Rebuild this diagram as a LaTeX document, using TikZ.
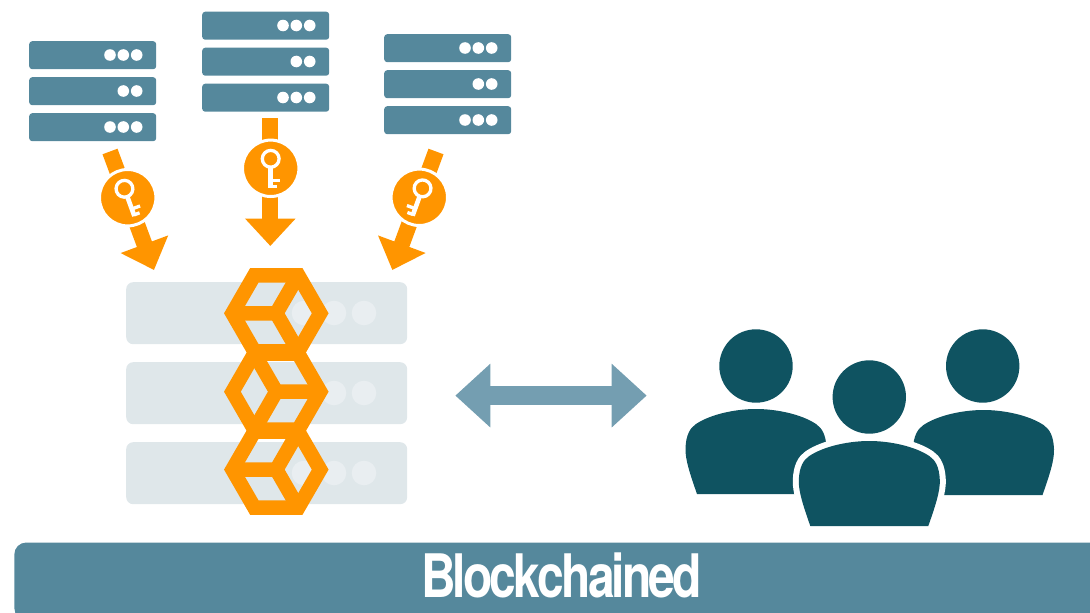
\documentclass[tikz,border=0pt]{standalone}
\usepackage{fontspec}
\setmainfont{Liberation Sans}
\newfontfamily\titlefont[LetterSpace=-6]{TeX Gyre Heros}
\usetikzlibrary{arrows.meta}
\definecolor{rackblue}{HTML}{55889C}
\definecolor{keyorange}{HTML}{FF9500}
\definecolor{paleblue}{HTML}{DFE7EA}
\definecolor{paledot}{HTML}{E9EEF1}
\definecolor{teal}{HTML}{0F5361}
\definecolor{dblarrow}{HTML}{749EB1}
\tikzset{
  rackrow/.style={fill=rackblue,draw=none,rounded corners=3pt},
  rackdot/.style={fill=white,draw=none},
  palerow/.style={fill=paleblue,draw=none,rounded corners=7pt},
  palecirc/.style={fill=paledot,draw=none},
  keyarrow/.style={draw=keyorange,line width=16pt,-{Triangle[width=49pt,length=27.5pt]}},
  keycircle/.style={circle,fill=keyorange,draw=white,line width=3pt,minimum size=56.4pt,inner sep=0pt},
  keyline/.style={draw=white,line width=3.3pt},
  keyshaft/.style={draw=white,line width=4.6pt},
  hexline/.style={draw=keyorange,line width=14.5pt,line join=miter,miter limit=10},
  personfill/.style={fill=teal,draw=none},
  biglink/.style={draw=dblarrow,line width=19pt,{Triangle[width=61.5pt,length=35pt]}-{Triangle[width=61.5pt,length=35pt]}}
}
\newcommand{\rackat}[3]{% name, left x, top y
  \begin{scope}[shift={(#2,#3)}]
    \node[rackrow,minimum width=127pt,minimum height=28pt,inner sep=0pt,anchor=north west] (#1a) at (0,0) {};
    \node[rackrow,minimum width=127pt,minimum height=28pt,inner sep=0pt,anchor=north west] (#1b) at (0,36) {};
    \node[rackrow,minimum width=127pt,minimum height=28pt,inner sep=0pt,anchor=north west] (#1c) at (0,72) {};
    \foreach \x in {81,94.3,107.7} {\fill[rackdot] (\x,14) circle (5.8pt); \fill[rackdot] (\x,86) circle (5.8pt);}
    \foreach \x in {94.3,107.7} {\fill[rackdot] (\x,50) circle (5.8pt);}
  \end{scope}}
\newcommand{\keyat}[3]{% center node, rotation, mirror
  \begin{scope}[shift={(#1)},rotate=#2,xscale=#3]
    \draw[keyline] (0,-9.5) circle (8.4pt);
    \draw[keyshaft] (0,-1.5) -- (0,19.5);
    \draw[keyline] (0,12) -- (8.8,12);
    \draw[keyline] (0,18.3) -- (6,18.3);
  \end{scope}}
\newcommand{\personbody}[3]{% centre x, top y, options
  \path[#3,shift={(#1,#2)}] (-59,85) .. controls (-66,65) and (-71,50) .. (-70.5,39)
    .. controls (-70,26) and (-66,19) .. (-60,15)
    .. controls (-45,5) and (-20,0) .. (0,0)
    .. controls (20,0) and (45,5) .. (60,15)
    .. controls (66,19) and (70,26) .. (70.5,39)
    .. controls (71,50) and (66,65) .. (59,85) -- cycle;}
\newcommand{\hexa}[2]{% centre y, mirror
  \begin{scope}[shift={(276.3,#1)},xscale=#2]
    \draw[hexline] (-21.95,-38) -- (21.95,-38) -- (43.9,0) -- (21.95,38) -- (-21.95,38) -- (-43.9,0) -- cycle;
    \draw[hexline] (-43.9,0) -- (0,0) (21.95,-38) -- (0,0) -- (21.95,38);
  \end{scope}}
\begin{document}
\begin{tikzpicture}[x=1pt,y=-1pt]
\useasboundingbox (0,0) rectangle (1090,613);
% racks
\rackat{ra}{29}{41}
\rackat{rb}{202}{11.5}
\rackat{rc}{384}{34}
% pale server
\foreach \n/\y in {pa/282,pb/362,pc/442}
  \node[palerow,minimum width=281pt,minimum height=62pt,inner sep=0pt,anchor=north west] (\n) at (126,\y) {};
\foreach \y in {313,473} \foreach \x in {304,334,364} \fill[palecirc] (\x,\y) circle (12.3pt);
\foreach \x in {334,364} \fill[palecirc] (\x,393) circle (12.3pt);
% hexagons
\hexa{313.3}{1}
\hexa{391.7}{-1}
\hexa{469.6}{1}
% key arrows
\coordinate (sa) at (110,151.5);
\coordinate (ea) at (154,270);
\coordinate (sb) at (270.3,118);
\coordinate (eb) at (270.3,246);
\coordinate (sc) at (436,151.5);
\coordinate (ec) at (392.3,270);
\draw[keyarrow] (sa) -- (ea);
\draw[keyarrow] (sb) -- (eb);
\draw[keyarrow] (sc) -- (ec);
\node[keycircle] (ka) at (127.7,197.7) {};
\node[keycircle] (kb) at (270.7,168.3) {};
\node[keycircle] (kc) at (419.3,197.3) {};
\keyat{ka}{20}{1}
\keyat{kb}{0}{1}
\keyat{kc}{-20}{-1}
% double arrow
\coordinate (la) at (455.3,395.6);
\coordinate (lb) at (646.7,395.6);
\draw[biglink] (la) -- (lb);
% people
\fill[personfill] (756,366) circle (36.7pt);
\fill[personfill] (982.7,366) circle (36.7pt);
\fill[personfill] (869.3,397) circle (36.7pt);
\personbody{756}{409}{personfill}
\personbody{983.5}{410}{personfill}
\personbody{869.3}{441}{personfill,preaction={draw=white,line width=12pt}}
% banner
\fill[rackblue,rounded corners=12pt] (14.3,542.5) rectangle (1120,620);
\node[text=white,font=\titlefont\fontsize{60}{60}\selectfont\bfseries,inner sep=0pt,anchor=base] (title) at (561.5,597.5) {\scalebox{.8}[1]{Blockchained}};
\end{tikzpicture}
\end{document}
